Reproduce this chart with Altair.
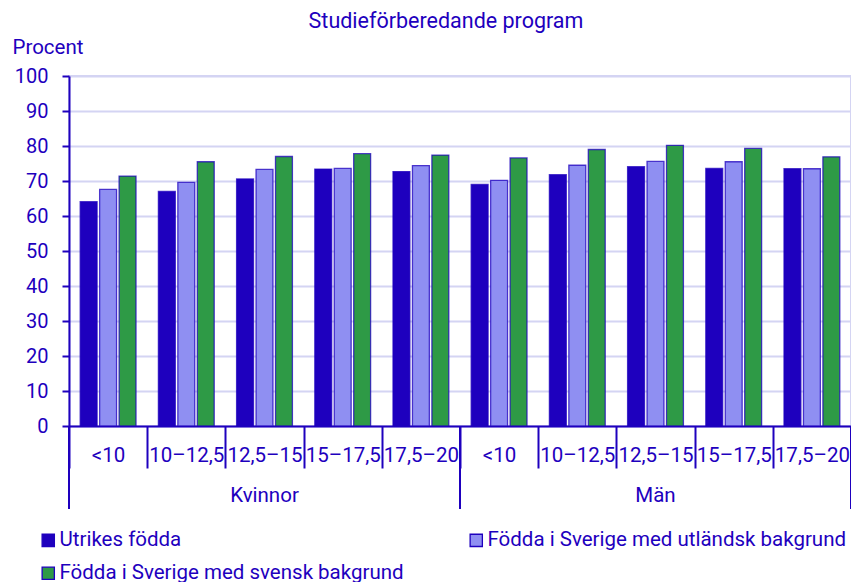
import altair as alt
import pandas as pd

genders = ["Kvinnor", "Män"]
ages = ["<10", "10–12,5", "12,5–15", "15–17,5", "17,5–20"]
series = ["Utrikes födda", "Födda i Sverige med utländsk bakgrund", "Födda i Sverige med svensk bakgrund"]
legend_order = ["Utrikes födda", "Födda i Sverige med svensk bakgrund", "Födda i Sverige med utländsk bakgrund"]
colors = ["#1e00be", "#8f8ff2", "#2e9a46"]
utrikes = [64.1, 67.0, 70.6, 73.4, 72.7, 69.0, 71.8, 74.1, 73.6, 73.5]
utlandsk = [67.6, 69.6, 73.3, 73.6, 74.4, 70.2, 74.5, 75.6, 75.5, 73.5]
svensk = [71.4, 75.5, 77.0, 77.8, 77.4, 76.6, 79.0, 80.2, 79.3, 76.9]

TXT = "#1e00be"
FONT = "Roboto"
FS = 20.5
W, H = 782, 350

keys = [f"{g}|{a}" for g in genders for a in ages]
rows = []
for vals, s in zip([utrikes, utlandsk, svensk], series):
    for k, v in zip(keys, vals):
        rows.append({"key": k, "series": s, "value": v})
df = pd.DataFrame(rows)

xscale = alt.Scale(domain=keys, paddingInner=0, paddingOuter=0)

bars = alt.Chart(df).mark_bar(stroke=TXT, strokeWidth=1.3, strokeOpacity=0.75).encode(
    x=alt.X("key:N", scale=xscale, sort=keys,
            axis=alt.Axis(title=None, labelExpr="split(datum.label, '|')[1]",
                          tickBand="extent", tickSize=42, tickWidth=2, tickColor=TXT,
                          domainWidth=2, domainColor=TXT, labelPadding=-13,
                          labelBaseline="middle", labelAngle=0, labelOverlap=False,
                          labelFontSize=FS, labelColor=TXT, labelFont=FONT, grid=False)),
    xOffset=alt.XOffset("series:N", sort=series,
                        scale=alt.Scale(domain=series, paddingInner=0.13, paddingOuter=0.575)),
    y=alt.Y("value:Q", scale=alt.Scale(domain=[0, 100]),
            axis=alt.Axis(values=list(range(0, 101, 10)), title="Procent", titleAngle=0,
                          titleX=-57, titleY=-29, titleAlign="left", titleBaseline="middle",
                          titleFontSize=FS, titleFont=FONT, titleColor=TXT, titleFontWeight="normal",
                          labelFontSize=20, labelFont=FONT, labelColor=TXT, labelPadding=14,
                          tickSize=7, tickWidth=2, tickColor=TXT, domainWidth=2, domainColor=TXT,
                          gridColor="#d4d4f3", gridWidth=2)),
    color=alt.Color("series:N", sort=series, scale=alt.Scale(domain=series, range=colors),
                    legend=alt.Legend(orient="none", legendX=-31, legendY=454, columns=2,
                                      values=legend_order,
                                      columnPadding=62, rowPadding=12, symbolType="square",
                                      symbolSize=150, symbolStrokeColor=TXT, symbolStrokeWidth=1.3,
                                      symbolOpacity=1, labelFontSize=FS, labelFont=FONT,
                                      labelColor=TXT, labelOffset=1, title=None, labelLimit=500)),
)

grp = pd.DataFrame({"key": ["Kvinnor|12,5–15", "Män|12,5–15"], "label": genders})
group_text = alt.Chart(grp).mark_text(font=FONT, fontSize=FS, color=TXT, baseline="middle").encode(
    x=alt.X("key:N", scale=xscale, sort=keys),
    y=alt.value(H + 70),
    text="label:N",
)

div_start = pd.DataFrame({"key": ["Kvinnor|<10", "Män|<10"]})
div_end = pd.DataFrame({"key": ["Män|17,5–20"]})
rule1 = alt.Chart(div_start).mark_rule(color=TXT, strokeWidth=2).encode(
    x=alt.X("key:N", scale=xscale, sort=keys, bandPosition=0),
    y=alt.value(H), y2=alt.value(H + 83),
)
rule2 = alt.Chart(div_end).mark_rule(color=TXT, strokeWidth=2).encode(
    x=alt.X("key:N", scale=xscale, sort=keys, bandPosition=1),
    y=alt.value(H), y2=alt.value(H + 83),
)

chart = alt.layer(bars, group_text, rule1, rule2).properties(
    width=W, height=H,
    title=alt.TitleParams("Studieförberedande program", anchor="middle", dx=-14, offset=5,
                          fontSize=21.5, font=FONT, fontWeight="normal", color=TXT),
    padding={"left": 61, "top": 68, "right": 0, "bottom": 156},
    autosize="none",
).configure_view(stroke="#d4d4f3", strokeWidth=2)

chart.save("out.html", embed_options={"renderer": "svg", "actions": False})
